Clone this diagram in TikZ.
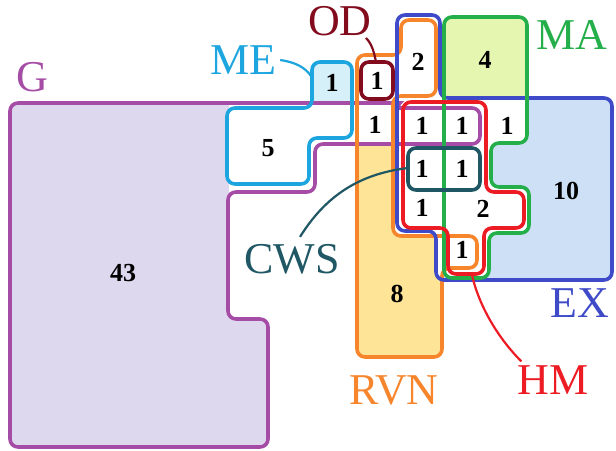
\documentclass[tikz,border=0pt]{standalone}
\usepackage{fontspec}
\setmainfont{Liberation Serif}
\usepackage{tikz}
\definecolor{gline}{RGB}{165,76,166}
\definecolor{gfill}{RGB}{222,216,238}
\definecolor{meline}{RGB}{28,165,223}
\definecolor{mefill}{RGB}{214,240,249}
\definecolor{odline}{RGB}{130,12,30}
\definecolor{rvnline}{RGB}{246,133,44}
\definecolor{rvnfill}{RGB}{254,228,150}
\definecolor{exline}{RGB}{62,74,200}
\definecolor{exfill}{RGB}{205,224,246}
\definecolor{maline}{RGB}{36,175,75}
\definecolor{mafill}{RGB}{229,246,176}
\definecolor{hmline}{RGB}{237,28,36}
\definecolor{cwsline}{RGB}{31,87,101}

\newcommand{\shapeG}{(100,103) -- (392,103) .. controls (399,103) and (398,108) .. (406,108) -- (480,108) -- (480,144) -- (315,144) -- (315,192) -- (228,192) -- (228,319) -- (268,319) -- (268,447) -- (10,447) -- (10,103) -- cycle}
\newcommand{\shapeME}{(330,62) -- (352,62) -- (352,138) -- (309,138) -- (309,184) -- (227,184) -- (227,108) -- (312,108) -- (312,62) -- cycle}
\newcommand{\shapeRVN}{(418,20) -- (436,20) -- (436,96) -- (393,96) -- (393,236) -- (477,236) -- (477,268) -- (442,268) -- (442,357) -- (357,357) -- (357,55) -- (401,55) -- (401,20) -- cycle}
\newcommand{\shapeEX}{(420,15) -- (440,15) -- (440,98) -- (612,98) -- (612,280) -- (436,280) -- (436,231) -- (397,231) -- (397,15) -- cycle}
\newcommand{\shapeMA}{(485,17) -- (527,17) -- (527,143) -- (491,143) -- (491,187) -- (529,187) -- (529,233) -- (489,233) -- (489,278) -- (444,278) -- (444,17) -- cycle}
\newcommand{\shapeHM}{(440,102) -- (486,102) -- (486,192) -- (524,192) -- (524,228) -- (484,228) -- (484,274) -- (448,274) -- (448,228) -- (403,228) -- (403,102) -- cycle}

\begin{document}
\begin{tikzpicture}[x=1pt, y=-1pt,
      setline/.style={line width=3.6pt, rounded corners=8pt},
      setname/.style={inner sep=0pt, font=\fontsize{44}{44}\selectfont},
      count/.style={inner sep=0pt, font=\bfseries\fontsize{26}{26}\selectfont},
      leader/.style={line width=2.2pt}
    ]
      \useasboundingbox (0,0) rectangle (616,450);

      % Zone fills: only the one-set zones are tinted
      \begin{scope}
        \clip[rounded corners=8pt] \shapeG;
        \fill[gfill] (0,0) rectangle (229,450);
        \fill[gfill] (0,192) rectangle (272,450);
      \end{scope}
      \fill[white, rounded corners=8pt] \shapeME;
      \begin{scope}
        \clip (0,0) rectangle (616,103);
        \fill[mefill, rounded corners=8pt] \shapeME;
      \end{scope}
      \begin{scope}
        \clip[rounded corners=8pt] \shapeEX;
        \fill[exfill] (0,0) rectangle (616,450);
        \fill[white] (0,0) rectangle (444,450);
      \end{scope}
      \fill[white, rounded corners=8pt] \shapeMA;
      \begin{scope}
        \clip (0,0) rectangle (616,98);
        \fill[mafill, rounded corners=8pt] \shapeMA;
      \end{scope}
      \begin{scope}
        \clip[rounded corners=8pt] \shapeRVN;
        \fill[rvnfill] (0,145) rectangle (616,450);
        \fill[white, rounded corners=8pt] \shapeEX;
      \end{scope}

      % Set outlines
      \draw[setline, gline] \shapeG;
      \draw[setline, meline] \shapeME;
      \draw[setline, odline] (361,62) rectangle (393,99);
      \draw[setline, rvnline] \shapeRVN;
      \draw[setline, exline] \shapeEX;
      \draw[setline, maline] \shapeMA;
      \draw[setline, hmline] \shapeHM;
      \draw[setline, cwsline] (408,148) rectangle (480,190);

      % Zone counts
      \node[count] (n43) at (123,273) {43};
      \node[count] (n5) at (268,148) {5};
      \node[count] (nme) at (332,83) {1};
      \node[count] (nod) at (377,81) {1};
      \node[count] (ngrvn) at (375,125) {1};
      \node[count] (nrvnex) at (418,62) {2};
      \node[count] (nma) at (485,60) {4};
      \node[count] (nga) at (422,126) {1};
      \node[count] (ngb) at (462,126) {1};
      \node[count] (nmaex) at (507,126) {1};
      \node[count] (ncwsa) at (422,169) {1};
      \node[count] (ncwsb) at (462,169) {1};
      \node[count] (nex) at (566,191) {10};
      \node[count] (nhma) at (422,208) {1};
      \node[count] (nhmb) at (483,209) {2};
      \node[count] (nhmc) at (462,250) {1};
      \node[count] (nrvn) at (397,294) {8};

      % Set names
      \node[setname, text=gline] (glbl) at (32,77) {G};
      \node[setname, text=meline] (melbl) at (243,60) {ME};
      \node[setname, text=odline] (odlbl) at (340,21) {OD};
      \node[setname, text=maline] (malbl) at (572,35) {MA};
      \node[setname, text=cwsline] (cwslbl) at (292,259) {CWS};
      \node[setname, text=exline] (exlbl) at (580,303) {EX};
      \node[setname, text=rvnline] (rvnlbl) at (394,390) {RVN};
      \node[setname, text=hmline] (hmlbl) at (553,380) {HM};

      % Leader lines
      \coordinate (me-end) at (311,76);
      \coordinate (od-end) at (376,62);
      \coordinate (cws-end) at (408,168);
      \coordinate (hm-end) at (472,275);
      \draw[leader, meline] ([xshift=4pt]melbl.east) .. controls +(14,2) and +(-6,-9) .. (me-end);
      \draw[leader, odline] ([xshift=-6pt,yshift=-2pt]odlbl.south east) .. controls +(6,6) and +(-2,-10) .. (od-end);
      \draw[leader, cwsline] ([xshift=8pt,yshift=7pt]cwslbl.north) .. controls +(25,-40) and +(-50,6) .. (cws-end);
      \draw[leader, hmline] (hm-end) .. controls +(8,35) and +(-20,-20) .. ([xshift=4pt,yshift=4pt]hmlbl.north west);
    \end{tikzpicture}
\end{document}
